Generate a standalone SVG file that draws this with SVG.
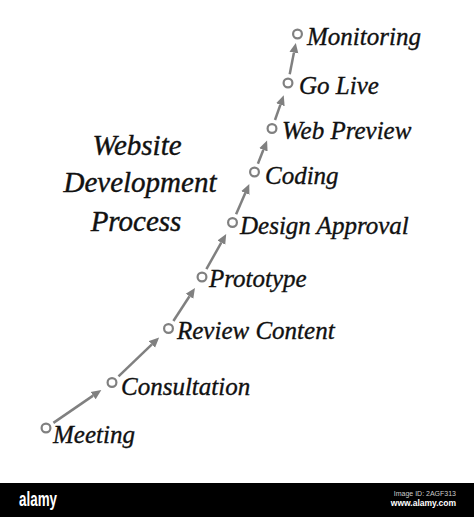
<svg xmlns="http://www.w3.org/2000/svg" width="474" height="517" viewBox="0 0 474 517">
<style>
.lbl{font-family:"Liberation Serif","Times New Roman",serif;font-style:italic;font-size:25px;fill:#111;stroke:#111;stroke-width:0.35}
.ttl{font-family:"Liberation Serif","Times New Roman",serif;font-style:italic;font-size:29px;fill:#111;stroke:#111;stroke-width:0.4;text-anchor:middle}
.dot{fill:#fff;stroke:#808080;stroke-width:2.2}
.arr{stroke:#808080;stroke-width:2.5;fill:none;marker-end:url(#ah)}
</style>
<defs>
<marker id="ah" markerUnits="userSpaceOnUse" markerWidth="12" markerHeight="12" refX="0" refY="5" orient="auto">
<path d="M0,0.5 L10,5 L0,9.5 z" fill="#808080"/>
</marker>
</defs>
<rect width="474" height="517" fill="#fff"/>
<g id="title">
<text class="ttl" x="137" y="155">Website</text>
<text class="ttl" x="140" y="192">Development</text>
<text class="ttl" x="136" y="231">Process</text>
</g>
<g id="connectors">
<line class="arr" x1="53.4" y1="422.9" x2="93.1" y2="395.6"/>
<line class="arr" x1="118.5" y1="376.3" x2="151.9" y2="344.4"/>
<line class="arr" x1="173.4" y1="321.0" x2="189.5" y2="296.3"/>
<line class="arr" x1="206.4" y1="269.1" x2="221.3" y2="242.6"/>
<line class="arr" x1="236.1" y1="214.3" x2="245.3" y2="193.1"/>
<line class="arr" x1="257.9" y1="163.7" x2="263.4" y2="149.8"/>
<line class="arr" x1="275.0" y1="120.0" x2="280.4" y2="104.7"/>
<line class="arr" x1="289.7" y1="74.2" x2="293.9" y2="52.7"/>
</g>
<g id="meeting"><circle class="dot" cx="46" cy="428" r="4.4"/><text class="lbl" x="53" y="443">Meeting</text></g>
<g id="consultation"><circle class="dot" cx="112" cy="382.5" r="4.4"/><text class="lbl" x="121" y="395">Consultation</text></g>
<g id="review-content"><circle class="dot" cx="168.5" cy="328.5" r="4.4"/><text class="lbl" x="177" y="338.5">Review Content</text></g>
<g id="prototype"><circle class="dot" cx="202" cy="277" r="4.4"/><text class="lbl" x="209" y="287">Prototype</text></g>
<g id="design-approval"><circle class="dot" cx="232.5" cy="222.5" r="4.4"/><text class="lbl" x="240" y="233.5">Design Approval</text></g>
<g id="coding"><circle class="dot" cx="254.5" cy="172" r="4.4"/><text class="lbl" x="265" y="183.5">Coding</text></g>
<g id="web-preview"><circle class="dot" cx="272" cy="128.5" r="4.4"/><text class="lbl" x="282" y="138.5">Web Preview</text></g>
<g id="go-live"><circle class="dot" cx="288" cy="83" r="4.4"/><text class="lbl" x="299" y="93.5">Go Live</text></g>
<g id="monitoring"><circle class="dot" cx="297.5" cy="34" r="4.4"/><text class="lbl" x="307" y="45">Monitoring</text></g>
<g id="watermark">
<rect x="0" y="483" width="474" height="34" fill="#000"/>
<text x="19" y="506" font-family="Liberation Sans, Arial, sans-serif" font-weight="bold" font-size="20" fill="#fff" textLength="38" lengthAdjust="spacingAndGlyphs">alamy</text>
<text x="456" y="496" font-family="Liberation Sans, Arial, sans-serif" font-size="7" fill="#ccc" text-anchor="end">Image ID: 2AGF313</text>
<text x="456" y="505.5" font-family="Liberation Sans, Arial, sans-serif" font-weight="bold" font-size="8.5" fill="#fff" text-anchor="end">www.alamy.com</text>
</g>
</svg>
